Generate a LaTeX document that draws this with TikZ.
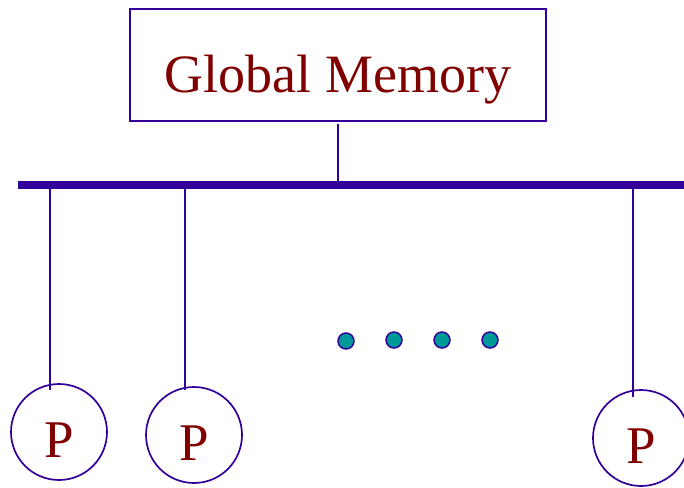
\documentclass[tikz,border=0pt]{standalone}
\usepackage{fontspec}
\setmainfont{Liberation Serif}
\definecolor{wire}{HTML}{330099}
\definecolor{label}{HTML}{800000}
\definecolor{dotfill}{HTML}{009999}
\begin{document}
\begin{tikzpicture}[x=1pt,y=-1pt,
  memory/.style={draw=wire,line width=1.5pt,minimum width=416pt,minimum height=112pt,
    inner sep=0pt,font=\fontsize{54}{60}\selectfont,text=label,text height=54pt,text depth=0pt},
  proc/.style={circle,draw=wire,line width=1.7pt,minimum size=96pt,inner sep=0pt,
    font=\fontsize{53}{60}\selectfont,text=label,text height=51pt,text depth=0pt},
  link/.style={draw=wire,line width=1.5pt},
  bus/.style={draw=wire,line width=7.5pt},
  ellipsisdot/.style={circle,draw=wire,fill=dotfill,line width=1.5pt,minimum size=16pt,inner sep=0pt}]
\useasboundingbox (0,0) rectangle (684,487);

% global memory block
\node[memory] (mem) at (338,65) {Global Memory};

% shared bus
\coordinate (busL) at (18,185);
\coordinate (busR) at (690,185);
\draw[bus] (busL) -- (busR);

% memory tap onto the bus
\coordinate (memtap) at (338,124);
\coordinate (membus) at (338,182);
\draw[link] (memtap) -- (membus);

% processors
\node[proc] (p1) at (59,432) {P};
\node[proc] (p2) at (194,435) {P};
\node[proc] (p3) at (641,438) {P};

% processor taps
\coordinate (t1) at (50,188);
\coordinate (t2) at (185,188);
\coordinate (t3) at (633,188);
\coordinate (e1) at (50,390);
\coordinate (e2) at (185,390);
\coordinate (e3) at (633,397);
\draw[link] (t1) -- (e1);
\draw[link] (t2) -- (e2);
\draw[link] (t3) -- (e3);

% ellipsis
\node[ellipsisdot] (d1) at (346,341) {};
\node[ellipsisdot] (d2) at (394,340) {};
\node[ellipsisdot] (d3) at (442,340) {};
\node[ellipsisdot] (d4) at (490,340) {};
\end{tikzpicture}
\end{document}
